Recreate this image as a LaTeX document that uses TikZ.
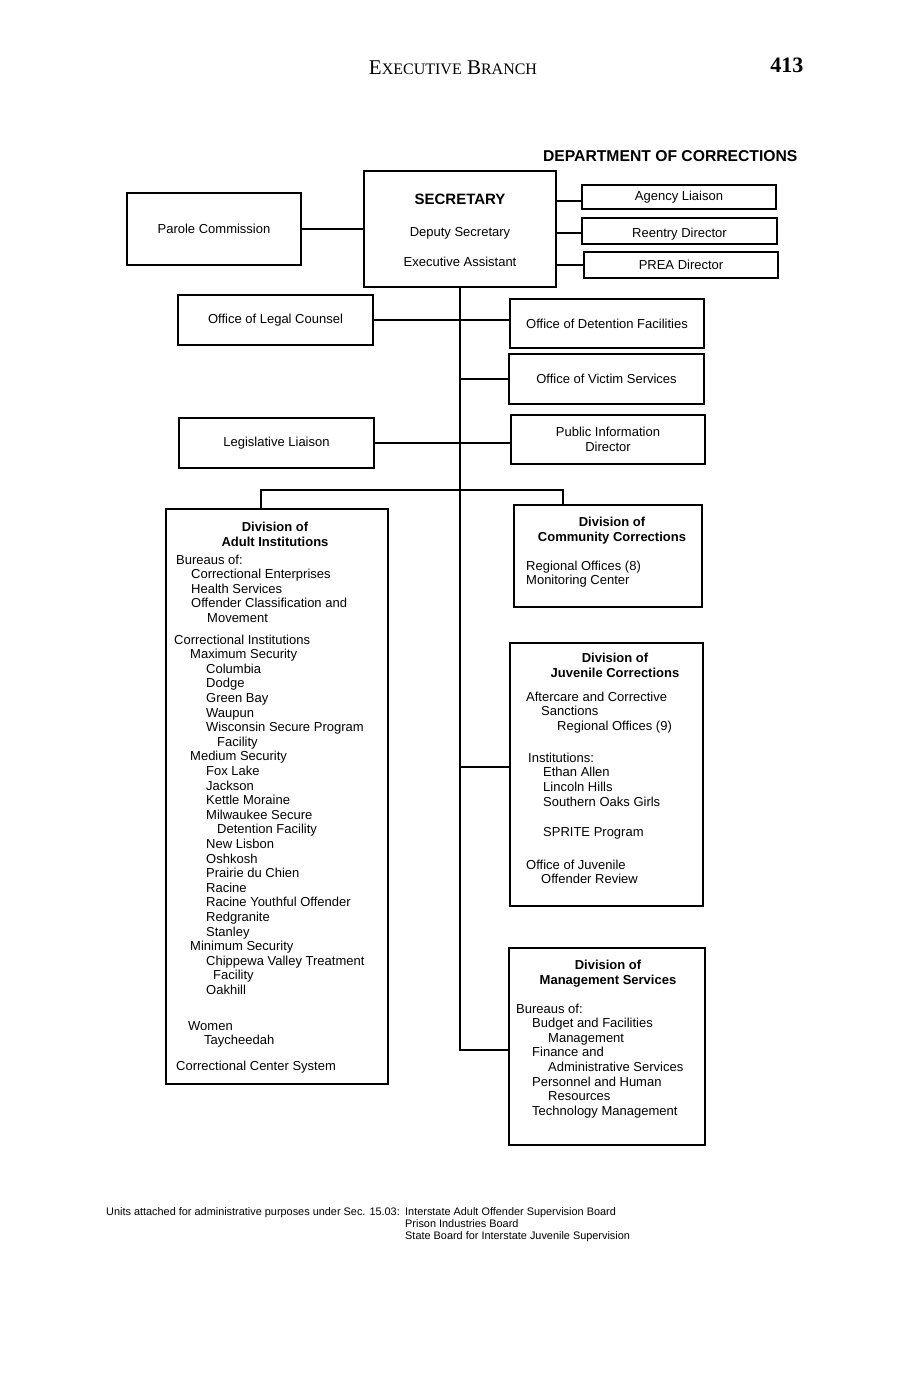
\documentclass[tikz,border=0pt]{standalone}
\usepackage{fontspec}
\setmainfont{Liberation Sans}
\newfontfamily\headfont{Liberation Serif}
\newcommand{\smc}[1]{{\fontsize{16}{16}\selectfont #1}}
\newcommand{\ind}[1]{\hspace*{#1pt}}
\tikzset{
    every node/.append style={align=center},
    box/.style={rectangle,draw=black,line width=2pt,inner sep=0pt,
        font=\fontsize{13}{14.6}\selectfont},
    link/.style={line width=2pt},
    ttl/.style={anchor=north,inner sep=0pt,font=\fontsize{13}{14.6}\selectfont\bfseries},
    lst/.style={anchor=north west,inner sep=0pt,align=left,font=\fontsize{13}{14.6}\selectfont},
    note/.style={anchor=north west,inner sep=0pt,align=left,font=\fontsize{10.9}{12.4}\selectfont}
}

\begin{document}
\begin{tikzpicture}[x=1pt,y=-1pt]
    \useasboundingbox (0,0) rectangle (907,1380);

    % page header
    \node[anchor=base,font=\headfont\fontsize{21}{21}\selectfont] (hdr) at (453,75) {E\smc{XECUTIVE} B\smc{RANCH}};
    \node[anchor=base east,font=\headfont\bfseries\fontsize{22}{22}\selectfont] (pg) at (807,73) {413};
    \node[anchor=base east,font=\bfseries\fontsize{15.7}{15.7}\selectfont] (dept) at (801,161.5) {DEPARTMENT OF CORRECTIONS};

    % top row: secretary with its side offices
    \node[box,minimum width=192pt,minimum height=116pt] (sec) at (460,229) {};
    \node[anchor=base,font=\bfseries\fontsize{15}{15}\selectfont] (secT) at (460,204.5) {SECRETARY};
    \node[anchor=base,font=\fontsize{13}{13}\selectfont] (secD) at (460,236.5) {Deputy Secretary};
    \node[anchor=base,font=\fontsize{13}{13}\selectfont] (secE) at (460,266.5) {Executive Assistant};
    \node[box,minimum width=174pt,minimum height=72pt] (parole)  at (214,229)   {Parole Commission};
    \node[box,minimum width=194pt,minimum height=24pt] (agency)  at (679,197)   {Agency Liaison};
    \node[box,minimum width=195pt,minimum height=26pt,text height=16pt] (reentry) at (679.5,231) {Reentry Director};
    \node[box,minimum width=194pt,minimum height=26pt] (prea)    at (681,265)   {PREA Director};

    % staff offices along the trunk
    \node[box,minimum width=195pt,minimum height=50pt] (legal)  at (275.5,320) {Office of Legal Counsel};
    \node[box,minimum width=194pt,minimum height=49pt] (detain) at (607,323.5) {Office of Detention Facilities};
    \node[box,minimum width=195pt,minimum height=50pt] (victim) at (606.5,379) {Office of Victim Services};
    \node[box,minimum width=195pt,minimum height=50pt] (legis)  at (276.5,443) {Legislative Liaison};
    \node[box,minimum width=194pt,minimum height=49pt] (pio)    at (608,439.5) {Public Information\\Director};

    % divisions
    \node[box,minimum width=222pt,minimum height=575pt] (dai) at (277,796.5) {};
    \node[ttl] (daiT) at (275,522) {Division of\\Adult Institutions};
    \node[lst] (daiL) at (176,554.5) {Bureaus of:\\
        \ind{15}Correctional Enterprises\\
        \ind{15}Health Services\\
        \ind{15}Offender Classification and\\
        \ind{31}Movement\\[7pt]
        \ind{-2}Correctional Institutions\\
        \ind{14}Maximum Security\\
        \ind{30}Columbia\\
        \ind{30}Dodge\\
        \ind{30}Green Bay\\
        \ind{30}Waupun\\
        \ind{30}Wisconsin Secure Program\\
        \ind{41}Facility\\
        \ind{14}Medium Security\\
        \ind{30}Fox Lake\\
        \ind{30}Jackson\\
        \ind{30}Kettle Moraine\\
        \ind{30}Milwaukee Secure\\
        \ind{41}Detention Facility\\
        \ind{30}New Lisbon\\
        \ind{30}Oshkosh\\
        \ind{30}Prairie du Chien\\
        \ind{30}Racine\\
        \ind{30}Racine Youthful Offender\\
        \ind{30}Redgranite\\
        \ind{30}Stanley\\
        \ind{14}Minimum Security\\
        \ind{30}Chippewa Valley Treatment\\
        \ind{37}Facility\\
        \ind{30}Oakhill\\[21pt]
        \ind{12}Women\\
        \ind{28}Taycheedah\\[10.8pt]
        Correctional Center System};

    \node[box,minimum width=188pt,minimum height=102pt] (dcc) at (608,556) {};
    \node[ttl] (dccT) at (612,517) {Division of\\Community Corrections};
    \node[lst] (dccL) at (526,560.5) {Regional Offices (8)\\Monitoring Center};

    \node[box,minimum width=193pt,minimum height=263pt] (djc) at (606.5,774.5) {};
    \node[ttl] (djcT) at (615,653) {Division of\\Juvenile Corrections};
    \node[lst] (djcL) at (526,691.5) {Aftercare and Corrective\\
        \ind{15}Sanctions\\
        \ind{31}Regional Offices (9)\\[17.4pt]
        \ind{2}Institutions:\\
        \ind{17}Ethan Allen\\
        \ind{17}Lincoln Hills\\
        \ind{17}Southern Oaks Girls\\[15.4pt]
        \ind{17}SPRITE Program\\[18.4pt]
        Office of Juvenile\\
        \ind{15}Offender Review};

    \node[box,minimum width=196pt,minimum height=197pt] (dms) at (607,1046.5) {};
    \node[ttl] (dmsT) at (608,960) {Division of\\Management Services};
    \node[lst] (dmsL) at (516,1003.5) {Bureaus of:\\
        \ind{16}Budget and Facilities\\
        \ind{32}Management\\
        \ind{16}Finance and\\
        \ind{32}Administrative Services\\
        \ind{16}Personnel and Human\\
        \ind{32}Resources\\
        \ind{16}Technology Management};

    % footnote
    \node[note] (units)  at (106,1207) {Units attached for administrative purposes under Sec. 15.03:};
    \node[note] (boards) at (405,1207) {Interstate Adult Offender Supervision Board\\Prison Industries Board\\State Board for Interstate Juvenile Supervision};

    % connectors
    \coordinate (jDiv)  at (460,490);
    \coordinate (jJuv)  at (460,767);
    \coordinate (jMgmt) at (460,1050);
    \coordinate (barL)  at (261,490);
    \coordinate (barR)  at (563,490);

    \draw[link] (parole.east) -- (parole.east -| sec.west);
    \draw[link] ([yshift=-4pt]agency.west -| sec.east) -- ([yshift=-4pt]agency.west);
    \draw[link] ([yshift=-2pt]reentry.west -| sec.east) -- ([yshift=-2pt]reentry.west);
    \draw[link] (prea.west -| sec.east) -- (prea.west);
    \draw[link] (sec.south) -- (jMgmt) -- (jMgmt -| dms.west);
    \draw[link] (legal.east) -- (legal.east -| detain.west);
    \draw[link] (jDiv |- victim.west) -- (victim.west);
    \draw[link] (legis.east) -- (legis.east -| pio.west);
    \draw[link] (dai.north -| barL) |- (barR) -- (barR |- dcc.north);
    \draw[link] (jJuv) -- (jJuv -| djc.west);
\end{tikzpicture}
\end{document}
